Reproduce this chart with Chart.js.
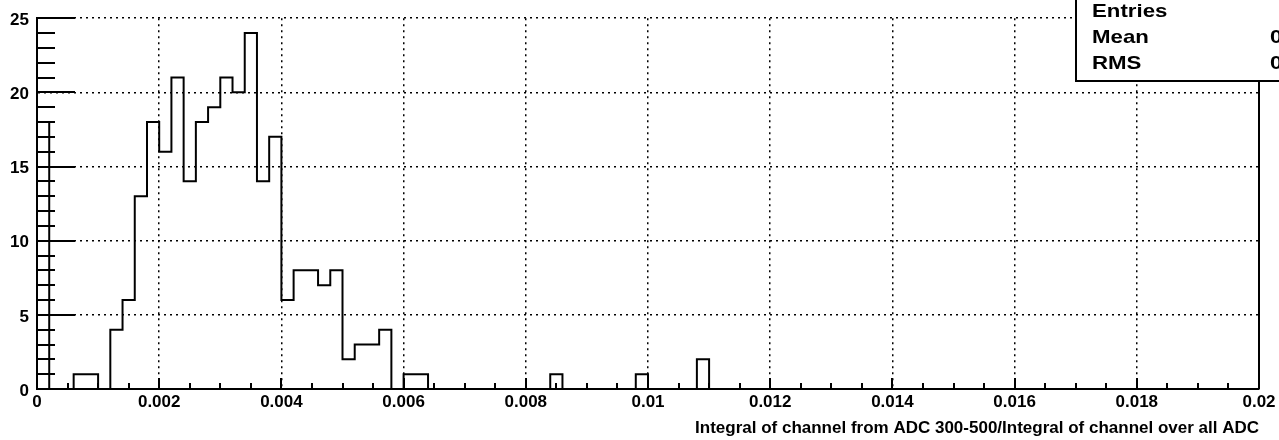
<!DOCTYPE html>
<html>
<head>
<meta charset="utf-8">
<script src="https://cdn.jsdelivr.net/npm/chart.js@4.4.1/dist/chart.umd.min.js"></script>
<style>
  html, body { margin: 0; padding: 0; background: #fff; }
  canvas { display: block; }
</style>
</head>
<body>
<canvas id="hist" width="1279" height="440"></canvas>
<script>
// histogram: 100 bins between 0 and 0.02
const xMin = 0;
const xMax = 0.02;
const binWidth = 0.0002;
// counts, bin index -> entries (all other bins are empty)
const filledBins = [0, 3, 4, 6, 7, 8, 9, 10, 11, 12, 13, 14, 15, 16, 17, 18, 19, 20, 21, 22, 23, 24, 25, 26, 27, 28, 30, 31, 42, 49, 54];
const binCounts  = [18, 1, 1, 4, 6, 13, 18, 16, 21, 14, 18, 19, 21, 20, 24, 14, 17, 6, 8, 8, 7, 8, 2, 3, 3, 4, 1, 1, 1, 1, 2];

const xTickValues = [0, 0.002, 0.004, 0.006, 0.008, 0.01, 0.012, 0.014, 0.016, 0.018, 0.02];
const xTickLabels = ['0', '0.002', '0.004', '0.006', '0.008', '0.01', '0.012', '0.014', '0.016', '0.018', '0.02'];
const yTickValues = [0, 5, 10, 15, 20, 25];
const yTickLabels = ['0', '5', '10', '15', '20', '25'];

const xTitle = 'Integral of channel from ADC 300-500/Integral of channel over all ADC';
const statsNames = ['Entries', 'Mean', 'RMS'];
const statsValues = ['', '0', '0'];

const FONT = 'Liberation Sans, Arial, Helvetica, sans-serif';

// build the outline points: one point per bin low edge
const nBins = Math.round((xMax - xMin) / binWidth);
const counts = new Array(nBins).fill(0);
filledBins.forEach((b, i) => { counts[b] = binCounts[i]; });
const outline = [{ x: xMin, y: 0 }];
for (let i = 0; i < nBins; i++) {
    outline.push({ x: xMin + i * binWidth, y: counts[i] });
}
outline.push({ x: xMax, y: 0 });

// inward ticks like ROOT draws them
const rootTicks = {
    id: 'rootTicks',
    afterDatasetsDraw(chart) {
        const { ctx, chartArea, scales: { x, y } } = chart;
        ctx.save();
        ctx.strokeStyle = '#000';
        ctx.lineWidth = 2;
        ctx.beginPath();
        for (let k = 0; k <= 40; k++) {
            const px = Math.round(x.getPixelForValue(xMin + k * 0.0005));
            const len = (k % 4 === 0) ? 11 : 6;
            ctx.moveTo(px, chartArea.bottom);
            ctx.lineTo(px, chartArea.bottom - len);
        }
        for (let k = 0; k <= 25; k++) {
            const py = Math.round(y.getPixelForValue(k));
            const len = (k % 5 === 0) ? 38 : 18;
            ctx.moveTo(chartArea.left, py);
            ctx.lineTo(chartArea.left + len, py);
        }
        ctx.stroke();
        // right frame line
        ctx.beginPath();
        ctx.moveTo(chartArea.right, chartArea.top);
        ctx.lineTo(chartArea.right, chartArea.bottom);
        ctx.stroke();
        ctx.restore();
    }
};

// stats box in the top right corner
const statsBox = {
    id: 'statsBox',
    afterDraw(chart) {
        const ctx = chart.ctx;
        ctx.save();
        ctx.fillStyle = '#fff';
        ctx.strokeStyle = '#000';
        ctx.lineWidth = 2;
        ctx.fillRect(1076, -10, 220, 91);
        ctx.strokeRect(1076, -10, 220, 91);
        ctx.fillStyle = '#000';
        ctx.font = 'bold 19px ' + FONT;
        ctx.textBaseline = 'middle';
        ctx.textAlign = 'left';
        statsNames.forEach((name, i) => {
            const ty = 12 + i * 26;
            ctx.save();
            ctx.translate(1092, ty);
            ctx.scale(1.17, 1);
            ctx.fillText(name, 0, 0);
            ctx.restore();
            ctx.save();
            ctx.translate(1270, ty);
            ctx.scale(1.17, 1);
            ctx.fillText(statsValues[i], 0, 0);
            ctx.restore();
        });
        ctx.restore();
    }
};

new Chart(document.getElementById('hist'), {
    type: 'line',
    data: {
        datasets: [{
            data: outline,
            stepped: 'before',
            borderColor: '#000',
            borderWidth: 2,
            pointRadius: 0,
            fill: false
        }]
    },
    options: {
        responsive: false,
        animation: false,
        layout: { padding: { top: 14, right: 20, left: 0, bottom: 0 } },
        plugins: {
            legend: { display: false },
            tooltip: { enabled: false }
        },
        scales: {
            x: {
                type: 'linear',
                min: xMin,
                max: xMax,
                afterBuildTicks: scale => { scale.ticks = xTickValues.map(v => ({ value: v })); },
                afterFit: scale => { scale.height = 51; },
                ticks: {
                    maxRotation: 0,
                    autoSkip: false,
                    padding: 3,
                    color: '#000',
                    font: { family: FONT, size: 17, weight: 'bold' },
                    callback: (v, i) => xTickLabels[i]
                },
                grid: { color: '#000', lineWidth: 1.5, drawTicks: false },
                border: { display: true, color: '#000', width: 2, dash: [2, 4] },
                title: {
                    display: true,
                    text: xTitle,
                    align: 'end',
                    color: '#000',
                    padding: { top: 0, bottom: 1 },
                    font: { family: FONT, size: 17, weight: 'bold' }
                }
            },
            y: {
                min: 0,
                max: 25,
                afterBuildTicks: scale => { scale.ticks = yTickValues.map(v => ({ value: v })); },
                afterFit: scale => { scale.width = 37; },
                ticks: {
                    padding: 8,
                    labelOffset: 2,
                    color: '#000',
                    font: { family: FONT, size: 17, weight: 'bold' },
                    callback: (v, i) => yTickLabels[i]
                },
                grid: { color: '#000', lineWidth: 1.5, drawTicks: false },
                border: { display: true, color: '#000', width: 2, dash: [2, 4] }
            }
        }
    },
    plugins: [rootTicks, statsBox]
});
</script>
</body>
</html>
